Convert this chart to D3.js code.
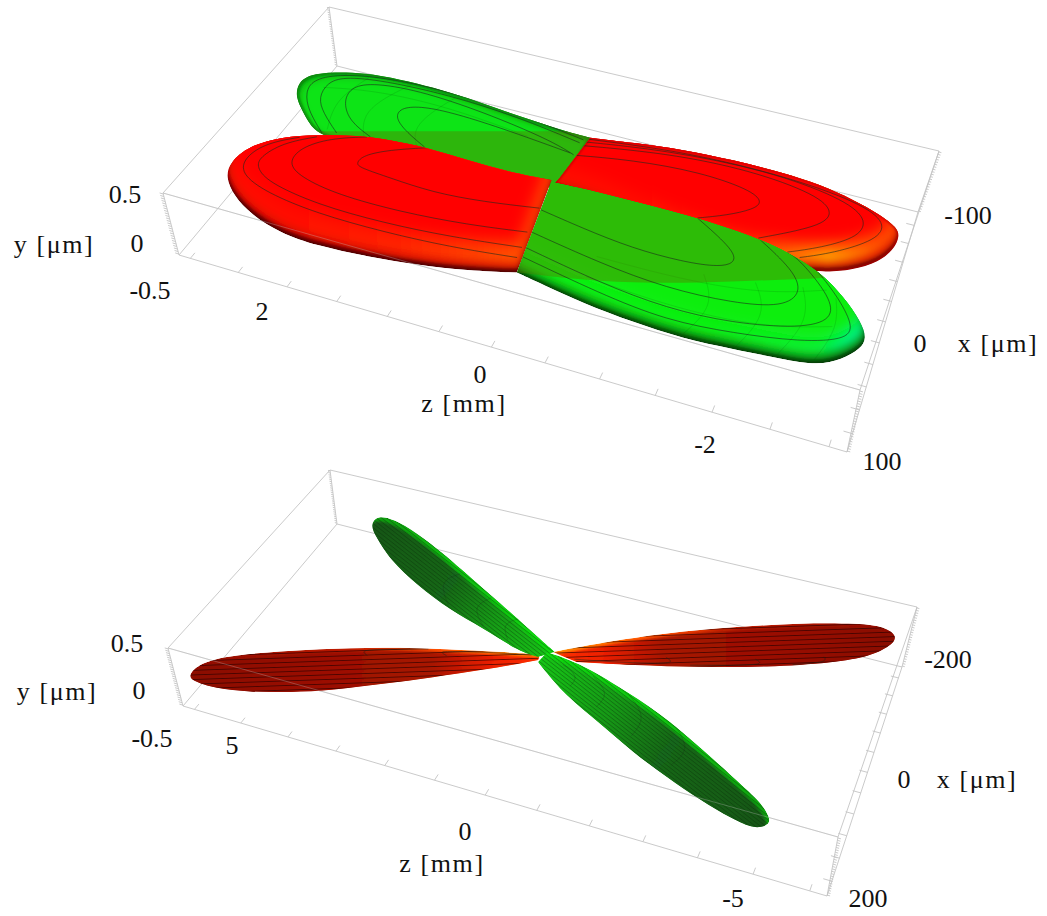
<!DOCTYPE html>
<html>
<head>
<meta charset="utf-8">
<script src="https://d3js.org/d3.v7.min.js"></script>
<style>
  body { margin: 0; background: #fff; }
  text { font-family: "Liberation Serif", serif; font-size: 26px; fill: #111; text-anchor: middle; }
  text.title { letter-spacing: 1.6px; }
</style>
</head>
<body>
<div id="chart"></div>
<script>
// Lobe outlines and contour lines, all as [z mm, x um] pairs

// upper plot
const greenBack = [[0.02,-12],[0.15,-14],[0.82,-10],[1.59,-1],[2.44,-3],[2.64,-12],[2.82,-25],[2.98,-37],[3.07,-52],[3.04,-65],[2.82,-75],[2.53,-82],[2.14,-85],[1.78,-85],[1.39,-83],[1.01,-79],[0.64,-76],[0.27,-73],[0.03,-73]];
const redFront = [[-0.02,73],[0.39,83],[0.83,90],[1.28,95],[1.77,98],[2.15,96],[2.52,87],[2.79,75],[3.00,60],[3.07,45],[3.03,25],[2.80,7],[2.50,-4],[2.14,-14],[1.81,-18],[1.43,-20],[1.00,-18],[0.56,-17],[0.15,-20]];
const redBack = [[0.03,-73],[-0.38,-79],[-0.86,-85],[-1.35,-87],[-1.84,-87],[-2.21,-84],[-2.55,-77],[-2.82,-69],[-3.01,-60],[-3.05,-52],[-3.04,-39],[-2.95,-23],[-2.75,-9],[-2.50,1],[-1.81,13],[-0.91,-2],[-0.33,-12],[0.05,-12],[0.12,-14],[0.09,-24]];
const greenFront = [[0.14,-18],[-0.33,-20],[-0.82,-20],[-1.28,-20],[-1.86,-16],[-2.16,-10],[-2.49,0],[-2.76,17],[-2.97,35],[-3.05,47],[-3.03,57],[-2.91,70],[-2.74,80],[-2.45,83],[-2.04,86],[-1.61,89],[-1.16,87],[-0.69,83],[-0.29,77],[-0.02,73]];
const darkBand = [[3.13,10],[-0.20,-88],[-2.75,-161],[-3.16,-15],[-2.35,11],[-1.55,39],[-0.74,62],[0.13,75]];

const redFrontContours = [
  [[0.11,10],[0.62,18],[1.11,22],[1.57,19],[1.89,17],[1.96,14],[1.95,4],[1.75,-8],[1.43,-20]],
  [[0.09,35],[0.63,43],[1.27,48],[1.92,48],[2.35,41],[2.56,31],[2.56,13],[2.36,-4],[2.04,-15]],
  [[0.06,50],[0.71,58],[1.35,62],[2.02,62],[2.60,54],[2.80,43],[2.85,33],[2.75,13],[2.49,-2]],
  [[0.05,60],[0.66,67],[1.30,70],[1.97,70],[2.53,64],[2.90,53],[2.98,36],[2.89,17],[2.64,3]]
];
const greenBackContours = [
  [[1.46,-20],[1.71,-30],[1.92,-42],[1.94,-54],[1.77,-61],[1.46,-63],[0.91,-60],[0.13,-52]],
  [[2.01,-16],[2.30,-26],[2.50,-44],[2.55,-62],[2.40,-73],[1.91,-78],[1.15,-72],[0.38,-60],[0.09,-51]],
  [[2.34,-11],[2.61,-28],[2.77,-43],[2.80,-61],[2.70,-72],[2.30,-79],[1.57,-81],[0.81,-76],[0.10,-65]],
  [[2.47,-7],[2.77,-27],[2.93,-45],[2.96,-60],[2.78,-73],[2.32,-83],[1.59,-85],[0.84,-80],[0.08,-69]]
];
const redBackContours = [
  [[0.12,-50],[-0.46,-61],[-1.11,-66],[-1.62,-61],[-1.78,-52],[-1.72,-42],[-1.52,-30],[-1.28,-20]],
  [[0.10,-62],[-0.73,-77],[-1.54,-81],[-2.22,-73],[-2.43,-59],[-2.35,-42],[-1.87,-16]],
  [[0.07,-67],[-0.72,-80],[-1.69,-85],[-2.43,-76],[-2.73,-62],[-2.72,-42],[-2.42,-22],[-2.16,-10]],
  [[0.04,-71],[-0.87,-83],[-1.85,-84],[-2.61,-76],[-2.91,-62],[-2.87,-43],[-2.54,-20],[-2.28,-8]]
];
const greenFrontContours = [
  [[0.10,11],[-0.36,18],[-0.86,24],[-1.33,24],[-1.66,20],[-1.78,11],[-1.67,-1],[-1.28,-20]],
  [[0.05,34],[-0.66,45],[-1.30,51],[-1.89,48],[-2.30,40],[-2.41,23],[-2.27,5],[-1.87,-16]],
  [[0.04,49],[-0.74,62],[-1.38,68],[-1.95,65],[-2.50,54],[-2.74,39],[-2.65,20],[-2.29,-6],[-2.16,-10]],
  [[0.01,58],[-0.78,71],[-1.42,78],[-1.99,73],[-2.54,65],[-2.92,52],[-2.90,37],[-2.65,13],[-2.42,-3]]
];
// faint mesh on the green lobes
const greenFrontMesh = [
  [[-1.55,30],[-1.75,55],[-1.6,85]],
  [[-2.0,25],[-2.2,50],[-2.05,84]],
  [[-2.4,18],[-2.55,45],[-2.4,80]],
  [[-2.7,20],[-2.8,45],[-2.7,76]],
  [[-0.6,60],[-1.4,66],[-2.2,62],[-2.75,45]],
  [[-0.6,40],[-1.4,40],[-2.1,33],[-2.6,15]]
];
const greenBackMesh = [
  [[1.4,-8],[1.75,-35],[1.5,-80]],
  [[2.0,-7],[2.3,-40],[2.0,-82]],
  [[2.45,-12],[2.6,-45],[2.45,-78]],
  [[0.6,-58],[1.5,-68],[2.3,-66],[2.8,-55]]
];

// lower plot
const redLeft = [[0.13,12],[0.99,59],[1.78,97],[2.56,134],[3.35,170],[4.06,195],[4.76,214],[5.39,225],[5.92,223],[6.05,215],[6.05,193],[5.75,166],[5.02,135],[4.18,104],[3.03,66],[1.82,36],[0.90,16],[0.16,0]];
const greenUp = [[0.17,6],[0.54,6],[1.48,-22],[2.31,-41],[3.25,-75],[4.12,-114],[4.75,-157],[5.06,-182],[5.06,-207],[4.70,-208],[4.01,-189],[3.21,-158],[2.37,-121],[1.48,-82],[0.70,-47],[-0.08,-12]];
const redRight = [[-0.04,-11],[-0.79,-53],[-1.89,-108],[-3.03,-154],[-4.22,-198],[-5.32,-229],[-5.80,-234],[-6.06,-222],[-6.06,-202],[-5.74,-165],[-5.10,-132],[-3.97,-90],[-2.79,-56],[-1.59,-26],[-0.57,-4]];
const greenDown = [[0.06,-8],[-0.57,-4],[-1.50,20],[-2.49,50],[-3.43,91],[-4.19,127],[-4.78,154],[-5.06,177],[-5.08,189],[-4.88,202],[-4.47,196],[-3.82,180],[-3.12,158],[-2.36,132],[-1.56,97],[-0.75,67],[0.11,16]];

const greenDownArcs = [
  [[-0.35,8],[-0.75,22],[-0.7,45]],
  [[-1.0,15],[-1.45,40],[-1.35,70]],
  [[-1.8,32],[-2.3,65],[-2.2,105]],
  [[-2.8,62],[-3.3,100],[-3.1,135]]
];
const greenUpArcs = [
  [[0.9,-12],[1.2,-42],[0.9,-62]],
  [[1.5,-26],[1.95,-60],[1.7,-88]],
  [[2.4,-50],[2.9,-95],[2.6,-122]]
];
const redLeftArcs = [
  [[0.3,6],[1.0,20],[1.7,38],[2.0,46],[1.8,50]],
  [[2.2,47],[3.0,70],[3.4,84],[3.2,90]],
  [[0.4,30],[0.8,50],[0.6,55]]
];
const redRightArcs = [
  [[-0.5,-8],[-1.3,-24],[-2.0,-42],[-2.3,-52],[-2.1,-58]],
  [[-2.6,-55],[-3.4,-78],[-3.9,-94],[-3.7,-100]],
  [[-4.4,-108],[-5.0,-130],[-4.9,-140]]
];

const yTicks = d3.range(-0.6, 0.6001, 0.05);
const zTicksUpper = [3, 2.5, 2, 1.5, 1, 0.5, 0, -0.5, -1, -1.5, -2, -2.5, -3];
const xTicksUpper = [-100, -80, -60, -40, -20, 0, 20, 40, 60, 80, 100];
const zTicksLower = [6, 5, 4, 3, 2, 1, 0, -1, -2, -3, -4, -5, -6];
const xTicksLower = [-200, -160, -120, -80, -40, 0, 40, 80, 120, 160, 200];

const width = 1047, height = 916;

const svg = d3.select('#chart').append('svg')
    .attr('width', width)
    .attr('height', height);

const defs = svg.append('defs');
[1, 2, 4, 8].forEach(s => {
    defs.append('filter').attr('id', `blur${s}`)
        .attr('x', '-20%').attr('y', '-40%').attr('width', '140%').attr('height', '180%')
        .append('feGaussianBlur').attr('stdDeviation', s);
});

function gradient(id, x1, y1, x2, y2, stops) {
    const g = defs.append('linearGradient').attr('id', id)
        .attr('gradientUnits', 'userSpaceOnUse')
        .attr('x1', x1).attr('y1', y1).attr('x2', x2).attr('y2', y2);
    stops.forEach(s => g.append('stop').attr('offset', s[0]).attr('stop-color', s[1]));
    return `url(#${id})`;
}

function stripes(id, angle, gap, color, opacity) {
    const p = defs.append('pattern').attr('id', id)
        .attr('patternUnits', 'userSpaceOnUse')
        .attr('width', 40).attr('height', gap)
        .attr('patternTransform', `rotate(${angle})`);
    p.append('rect').attr('width', 40).attr('height', 0.9).attr('fill', color).attr('opacity', opacity);
    return `url(#${id})`;
}

// perspective map of the unit square onto four screen corners
function homography(p00, p10, p11, p01) {
    const dx1 = p10[0] - p11[0], dx2 = p01[0] - p11[0], sx = p00[0] - p10[0] + p11[0] - p01[0];
    const dy1 = p10[1] - p11[1], dy2 = p01[1] - p11[1], sy = p00[1] - p10[1] + p11[1] - p01[1];
    const den = dx1 * dy2 - dx2 * dy1;
    const g = (sx * dy2 - dx2 * sy) / den, h = (dx1 * sy - sx * dy1) / den;
    const a = p10[0] - p00[0] + g * p10[0], b = p01[0] - p00[0] + h * p01[0];
    const d = p10[1] - p00[1] + g * p10[1], e = p01[1] - p00[1] + h * p01[1];
    return (u, v) => {
        const w = g * u + h * v + 1;
        return [(a * u + b * v + p00[0]) / w, (d * u + e * v + p00[1]) / w];
    };
}

function makePanel(cfg) {
    const zScale = d3.scaleLinear().domain(cfg.zDomain).range([0, 1]);
    const xScale = d3.scaleLinear().domain(cfg.xDomain).range([0, 1]);
    const yScale = d3.scaleLinear().domain([-0.62, 0.62]).range([0, 1]);
    const floor = homography(...cfg.bottom);
    const roof = homography(...cfg.top);
    const project = (z, x, y = 0) => {
        const a = floor(zScale(z), xScale(x)), b = roof(zScale(z), xScale(x)), t = yScale(y);
        return [a[0] + (b[0] - a[0]) * t, a[1] + (b[1] - a[1]) * t];
    };
    const g = svg.append('g');
    const [zA, zB] = cfg.zDomain, [xA, xB] = cfg.xDomain, yA = -0.62, yB = 0.62;
    const edge = (layer, a, b, op = 1) => layer.append('line')
        .attr('x1', project(...a)[0]).attr('y1', project(...a)[1])
        .attr('x2', project(...b)[0]).attr('y2', project(...b)[1])
        .attr('stroke', '#c4c4c4').attr('stroke-width', 0.9).attr('opacity', op);

    // box parts behind the surfaces
    edge(g, [zA, xA, yA], [zB, xA, yA]);
    edge(g, [zA, xA, yA], [zA, xB, yA]);
    edge(g, [zA, xA, yA], [zA, xA, yB]);
    edge(g, [zB, xA, yA], [zB, xA, yB]);
    edge(g, [zA, xA, yB], [zB, xA, yB]);
    edge(g, [zA, xA, yB], [zA, xB, yB]);
    edge(g, [zA, xB, yB], [zB, xB, yB]);

    const surfaces = g.append('g');
    const front = g.append('g');

    edge(front, [zB, xA, yB], [zB, xB, yB]);
    edge(front, [zA, xB, yB], [zB, xB, yB], 0.35);
    edge(front, [zA, xB, yA], [zA, xB, yB]);
    edge(front, [zB, xB, yA], [zB, xB, yB]);
    edge(front, [zA, xB, yA], [zB, xB, yA]);
    edge(front, [zB, xA, yA], [zB, xB, yA]);

    // ticks
    cfg.zTicks.forEach(t => edge(front, [t, xB, yA], [t, xB - (xB - xA) * 0.025, yA]));
    cfg.xTicks.forEach(t => edge(front, [zB, t, yA], [zB - (zB - zA) * 0.012, t, yA]));
    yTicks.forEach(t => {
        edge(front, [zA, xB, t], [zA - (zB - zA) * 0.006, xB, t]);
        edge(front, [zA, xA, t], [zA - (zB - zA) * 0.004, xA, t]);
        edge(front, [zB, xB, t], [zB + (zB - zA) * 0.004, xB, t]);
        edge(front, [zB, xA, t], [zB + (zB - zA) * 0.004, xA, t]);
    });

    // tick and axis labels
    svg.append('g').selectAll('text').data(cfg.labels).enter().append('text')
        .attr('class', d => d[0].includes('[') ? 'title' : null)
        .attr('x', d => d[1]).attr('y', d => d[2] + 8)
        .text(d => d[0]);

    const open = d3.line().x(d => project(d[0], d[1])[0]).y(d => project(d[0], d[1])[1])
        .curve(d3.curveBasis);
    return { surfaces, outline: pts => open(pts) + 'Z', curve: pts => open(pts) };
}

let clipCount = 0;
function drawLobe(panel, pts, style) {
    const id = `lobe${clipCount++}`;
    const d = panel.outline(pts);
    defs.append('clipPath').attr('id', id).append('path').attr('d', d);
    const g = panel.surfaces.append('g').attr('clip-path', `url(#${id})`);
    g.append('path').attr('d', d).attr('fill', style.base);
    style.layers.forEach(l => {
        g.append('path').attr('d', d)
            .attr('fill', l.fill)
            .attr('transform', `translate(${l.t[0]},${l.t[1]})`)
            .attr('filter', l.blur ? `url(#blur${l.blur})` : null);
    });
    if (style.rim) {
        g.append('path').attr('d', d).attr('fill', 'none')
            .attr('stroke', style.rim).attr('stroke-width', style.rimWidth || 3)
            .attr('filter', 'url(#blur1)');
    }
    if (style.pattern) {
        g.append('path').attr('d', d).attr('fill', style.pattern);
    }
    (style.mesh || []).forEach(c => {
        g.append('path').attr('d', panel.curve(c)).attr('fill', 'none')
            .attr('stroke', '#0a400a').attr('stroke-opacity', 0.2).attr('stroke-width', 0.7);
    });
    if (style.band) {
        g.append('path').attr('d', panel.outline(style.band))
            .attr('fill', '#5a7800').attr('fill-opacity', 0.42);
    }
    (style.contours || []).forEach(c => {
        g.append('path').attr('d', panel.curve(c)).attr('fill', 'none')
            .attr('stroke', '#1c2a1c').attr('stroke-opacity', style.contourOpacity || 0.75).attr('stroke-width', 0.8);
    });
}

// upper plot
const upper = makePanel({
    zDomain: [3.12, -3.15], xDomain: [-115, 115],
    bottom: [[337, 66], [918, 212], [847, 452], [179, 255]],
    top: [[329, 7], [939, 151], [860, 390], [163, 193]],
    zTicks: zTicksUpper, xTicks: xTicksUpper,
    labels: [
        ['0.5', 125, 195], ['0', 137, 244], ['-0.5', 150, 291], ['y [μm]', 54, 245],
        ['2', 262, 312], ['0', 480, 375], ['z [mm]', 464, 404], ['-2', 705, 445],
        ['-100', 968, 216], ['0', 920, 344], ['x [μm]', 998, 344], ['100', 882, 462]
    ]
});

const greenBright = '#0fe414';
drawLobe(upper, greenBack, {
    base: '#0a6a0c', rim: '#0b8a10', rimWidth: 4,
    layers: [
        { fill: '#0aa810', t: [1, 1], blur: 2 },
        { fill: greenBright, t: [3, 4], blur: 4 }
    ],
    mesh: greenBackMesh,
    band: darkBand, contours: greenBackContours
});
drawLobe(upper, redBack, {
    base: '#5e0000', rim: '#c00000', rimWidth: 2,
    layers: [
        { fill: '#d01000', t: [-1, -4], blur: 2 },
        { fill: gradient('redGlow', 650, 0, 880, 0, [[0, '#ff1000'], [0.45, '#ff4000'], [0.78, '#ffa000'], [1, '#ff5000']]), t: [-1, -8], blur: 4 },
        { fill: '#ff0000', t: [-4, -26], blur: 8 }
    ],
    contours: redBackContours
});
drawLobe(upper, redFront, {
    base: '#4a0000',
    layers: [
        { fill: '#cc0c00', t: [1, -4], blur: 2 },
        { fill: gradient('redFrontGlow', 280, 0, 515, 0, [[0, '#ff0c00'], [0.5, '#ff2400'], [1, '#ff5000']]), t: [2, -8], blur: 4 },
        { fill: '#ff0000', t: [3, -30], blur: 8 }
    ],
    contours: redFrontContours
});
drawLobe(upper, greenFront, {
    base: '#063a08',
    layers: [
        { fill: '#0a8a10', t: [-1, -4], blur: 2 },
        { fill: gradient('greenGlow', 720, 300, 855, 350, [[0, '#0cf016'], [0.8, '#08f038'], [1, '#00f090']]), t: [-2, -9], blur: 4 },
        { fill: '#10ee10', t: [-3, -26], blur: 8 }
    ],
    mesh: greenFrontMesh,
    band: darkBand, contours: greenFrontContours
});

// lower plot
const lower = makePanel({
    zDomain: [6.25, -6.3], xDomain: [-225, 225],
    bottom: [[337, 524], [902, 667], [827, 896], [183, 706]],
    top: [[330, 470], [917, 607], [838, 837], [168, 648]],
    zTicks: zTicksLower, xTicks: xTicksLower,
    labels: [
        ['0.5', 127, 644], ['0', 139, 691], ['-0.5', 152, 739], ['y [μm]', 57, 692],
        ['5', 232, 746], ['0', 465, 832], ['z [mm]', 442, 864], ['-5', 733, 899],
        ['-200', 948, 660], ['0', 904, 780], ['x [μm]', 977, 780], ['200', 868, 899]
    ]
});

const redStripes = stripes('redStripes', -2, 4.6, '#2a0000', 0.7);
const greenStripes = stripes('greenStripes', 38, 3.2, '#062806', 0.35);
const redStops = [[0, '#ff3000'], [0.14, '#ee2000'], [0.32, '#a81400'], [1, '#8a0c00']];
const redRimStops = [[0, '#ff9000'], [0.3, '#ff5000'], [0.55, '#c01c00'], [1, '#900c00']];
const greenStops = [[0, '#12c412'], [0.3, '#129a14'], [0.55, '#14681a'], [1, '#125614']];
const greenRimStops = [[0, '#10dc10'], [0.6, '#10c010'], [1, '#10a010']];

drawLobe(lower, redLeft, {
    base: gradient('redLRim', 545, 0, 190, 0, redRimStops),
    layers: [{ fill: gradient('redL', 545, 0, 190, 0, redStops), t: [0, 3], blur: 1 }],
    pattern: redStripes, contours: redLeftArcs, contourOpacity: 0.6
});
drawLobe(lower, greenUp, {
    base: gradient('greenURim', 547, 658, 373, 520, greenRimStops),
    layers: [{ fill: gradient('greenU', 547, 658, 373, 520, greenStops), t: [-3, 4], blur: 1 }],
    pattern: greenStripes, contours: greenUpArcs, contourOpacity: 0.3
});
drawLobe(lower, redRight, {
    base: gradient('redRRim', 553, 0, 895, 0, redRimStops),
    layers: [{ fill: gradient('redR', 553, 0, 895, 0, redStops), t: [0, 3], blur: 1 }],
    pattern: redStripes, contours: redRightArcs, contourOpacity: 0.6
});
drawLobe(lower, greenDown, {
    base: gradient('greenDRim', 547, 658, 767, 823, greenRimStops),
    layers: [{ fill: gradient('greenD', 547, 658, 767, 823, greenStops), t: [-3, 4], blur: 1 }],
    pattern: greenStripes, contours: greenDownArcs, contourOpacity: 0.3
});
</script>
</body>
</html>
